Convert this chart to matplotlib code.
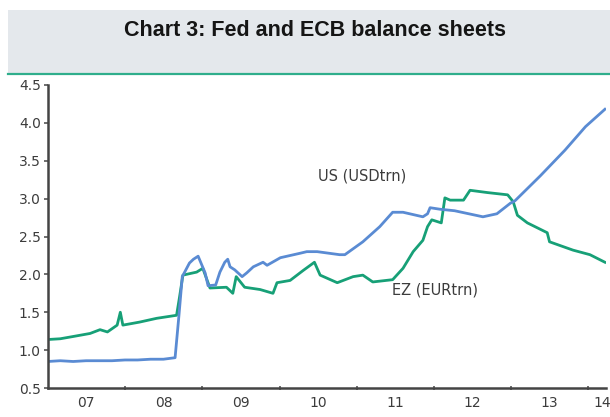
import matplotlib
matplotlib.use("Agg")
import matplotlib.pyplot as plt
import pandas as pd
from matplotlib.patches import Rectangle
from matplotlib.lines import Line2D

# ---- data ----
us_dates = ["2007-01-01", "2007-03-01", "2007-05-01", "2007-07-01", "2007-09-01", "2007-11-01",
            "2008-01-01", "2008-03-01", "2008-05-01", "2008-07-01", "2008-08-25", "2008-09-12",
            "2008-09-28", "2008-11-01", "2008-11-20", "2008-12-12", "2009-01-14", "2009-01-28",
            "2009-03-05", "2009-03-25", "2009-04-17", "2009-05-01", "2009-05-12", "2009-06-03",
            "2009-07-08", "2009-07-30", "2009-08-30", "2009-10-15", "2009-11-03", "2010-01-05",
            "2010-04-10", "2010-05-10", "2010-06-28", "2010-10-12", "2010-11-06", "2011-01-30",
            "2011-04-20", "2011-06-20", "2011-08-08", "2011-11-10", "2011-12-02", "2011-12-14",
            "2012-01-30", "2012-04-08", "2012-08-20", "2012-10-25", "2012-12-28", "2013-01-18",
            "2013-05-18", "2013-09-12", "2013-12-18", "2014-03-20"]
us_values = [0.85, 0.86, 0.85, 0.86, 0.86, 0.86,
             0.87, 0.87, 0.88, 0.88, 0.90, 1.45,
             1.97, 2.15, 2.20, 2.24, 2.02, 1.85,
             1.86, 2.03, 2.16, 2.20, 2.10, 2.06,
             1.97, 2.02, 2.10, 2.16, 2.12, 2.22,
             2.28, 2.30, 2.30, 2.26, 2.26, 2.43,
             2.63, 2.82, 2.82, 2.76, 2.80, 2.88,
             2.86, 2.84, 2.76, 2.80, 2.94, 2.97,
             3.30, 3.64, 3.95, 4.18]

ez_dates = ["2007-01-01", "2007-03-01", "2007-05-01", "2007-07-20", "2007-09-05", "2007-10-10",
            "2007-11-25", "2007-12-10", "2007-12-22", "2008-03-10", "2008-05-30", "2008-09-01",
            "2008-09-15", "2008-10-01", "2008-12-05", "2009-01-03", "2009-02-06", "2009-04-25",
            "2009-05-25", "2009-06-10", "2009-07-20", "2009-10-01", "2009-12-01", "2009-12-20",
            "2010-02-20", "2010-04-22", "2010-06-15", "2010-07-12", "2010-10-01", "2010-12-15",
            "2011-01-30", "2011-03-18", "2011-06-20", "2011-08-08", "2011-09-25", "2011-11-10",
            "2011-12-02", "2011-12-22", "2012-02-05", "2012-02-22", "2012-03-18", "2012-05-20",
            "2012-06-20", "2012-09-10", "2012-12-15", "2013-01-10", "2013-01-30", "2013-03-18",
            "2013-06-20", "2013-07-01", "2013-10-20", "2014-01-08", "2014-03-20"]
ez_values = [1.14, 1.15, 1.18, 1.22, 1.27, 1.24,
             1.33, 1.50, 1.33, 1.37, 1.42, 1.46,
             1.70, 1.99, 2.03, 2.08, 1.82, 1.83,
             1.75, 1.97, 1.83, 1.80, 1.75, 1.89,
             1.92, 2.05, 2.16, 1.99, 1.89, 1.97,
             1.99, 1.90, 1.93, 2.08, 2.30, 2.45,
             2.63, 2.72, 2.68, 3.01, 2.98, 2.98,
             3.11, 3.08, 3.05, 2.96, 2.78, 2.68,
             2.55, 2.43, 2.32, 2.26, 2.16]

year_labels = ["07", "08", "09", "10", "11", "12", "13", "14"]
y_ticks = [0.5, 1.0, 1.5, 2.0, 2.5, 3.0, 3.5, 4.0, 4.5]

title = "Chart 3: Fed and ECB balance sheets"
us_label = "US (USDtrn)"
ez_label = "EZ (EURtrn)"

# ---- styling ----
BLUE = "#5A8BD3"
GREEN = "#17A077"
TXT = "#3C3C3C"

W, H = 610, 417
fig = plt.figure(figsize=(W / 100, H / 100), dpi=100)
fig.patch.set_facecolor("white")

# title band
fig.patches.append(Rectangle((8 / W, 1 - 74 / H), 1 - 8 / W, 64 / H,
                             transform=fig.transFigure, facecolor="#E4E8EC",
                             edgecolor="none", zorder=0))
fig.lines.append(Line2D([8 / W, 1], [1 - 74 / H, 1 - 74 / H], transform=fig.transFigure,
                        color="#2FAE8C", linewidth=1.6))
fig.text(315 / W, 1 - 30 / H, title, ha="center", va="center", fontsize=15.5,
         fontweight="bold", family="Liberation Sans", color="#151515")

ax = fig.add_axes([47.8 / W, 29 / H, (606 - 47.8) / W, (388 - 85) / H])

us_x = pd.to_datetime(us_dates)
ez_x = pd.to_datetime(ez_dates)
ax.plot(ez_x, ez_values, color=GREEN, linewidth=2.0, solid_joinstyle="round")
ax.plot(us_x, us_values, color=BLUE, linewidth=2.0, solid_joinstyle="round")

ax.set_xlim(pd.Timestamp("2007-01-01"), pd.Timestamp("2014-03-25"))
ax.set_ylim(0.5, 4.5)

# year boundary ticks (no labels), mid-year labels (no tick marks)
boundaries = [pd.Timestamp(f"{y}-01-01") for y in range(2008, 2015)]
ax.set_xticks(boundaries)
ax.set_xticklabels([])
label_pos = [pd.Timestamp(f"{y}-07-01") for y in range(2007, 2014)] + [pd.Timestamp("2014-03-05")]
ax.set_xticks(label_pos, minor=True)
ax.set_xticklabels(year_labels, minor=True)
ax.tick_params(axis="x", which="major", length=3, width=1.2, color="#555555", direction="inout")
ax.tick_params(axis="x", which="minor", length=0, pad=6, labelsize=10, labelcolor=TXT)

ax.set_yticks(y_ticks)
ax.set_yticklabels([f"{v:.1f}" for v in y_ticks])
ax.tick_params(axis="y", length=3, width=1.2, color="#555555", pad=2, labelsize=10, labelcolor=TXT)
for lab in ax.get_xticklabels(minor=True) + ax.get_yticklabels():
    lab.set_family("DejaVu Sans")

for s in ["top", "right"]:
    ax.spines[s].set_visible(False)
for s in ["left", "bottom"]:
    ax.spines[s].set_color("#444444")
    ax.spines[s].set_linewidth(1.8)

ax.text(pd.Timestamp("2010-07-01"), 3.30, us_label, ha="left", va="center", fontsize=10.5,
        color=TXT, family="DejaVu Sans")
ax.text(pd.Timestamp("2011-06-15"), 1.79, ez_label, ha="left", va="center", fontsize=10.5,
        color=TXT, family="DejaVu Sans")

fig.savefig("out.png", dpi=100)
